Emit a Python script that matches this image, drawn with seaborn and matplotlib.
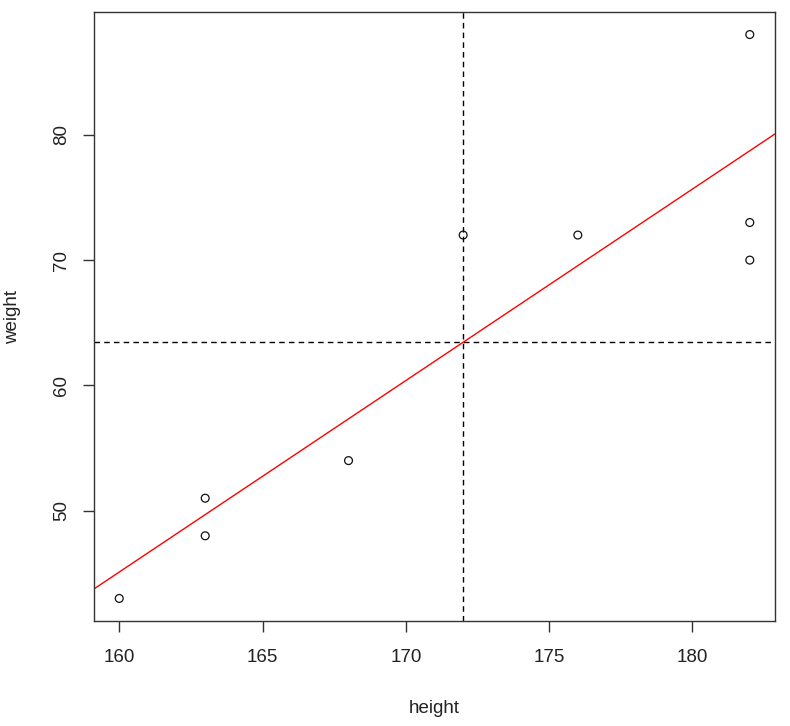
import matplotlib
matplotlib.use("Agg")
import matplotlib.pyplot as plt
import seaborn as sns
import numpy as np
import pandas as pd

height = [160, 163, 163, 168, 172, 176, 182, 182, 182]
weight = [43, 48, 51, 54, 72, 72, 70, 73, 88]

df = pd.DataFrame({"height": height, "weight": weight})

sns.set_theme(style="white")
plt.rcParams['font.family'] = ['Liberation Sans', 'DejaVu Sans']

fig = plt.figure(figsize=(7.9, 7.26), dpi=100)
ax = fig.add_axes([94/790, 1-621/726, (775-94)/790, (621-12)/726])

sns.scatterplot(data=df, x="height", y="weight", ax=ax, marker="o", s=32,
                facecolor="none", edgecolor="#111111", linewidth=0.9, zorder=3)

x = np.array(height, float); y = np.array(weight, float)
mx, my = x.mean(), y.mean()
slope = ((x-mx)*(y-my)).sum()/((x-mx)**2).sum()
icpt = my - slope*mx

xr = x.max()-x.min(); yr = y.max()-y.min()
ax.set_xlim(x.min()-0.04*xr, x.max()+0.04*xr)
ax.set_ylim(y.min()-0.04*yr, y.max()+0.04*yr)

ax.axline((0, icpt), slope=slope, color="red", linewidth=1.0, zorder=2)
ax.axvline(mx, color="black", linestyle=(0, (4, 3)), linewidth=1.0, zorder=1)
ax.axhline(my, color="black", linestyle=(0, (4, 3)), linewidth=1.0, zorder=1)

ax.set_xticks([160, 165, 170, 175, 180])
ax.set_yticks([50, 60, 70, 80])
ax.tick_params(axis="both", direction="out", length=8, width=1, colors="#333333",
               labelsize=13.5, labelcolor="#222222", bottom=True, left=True)
ax.tick_params(axis="x", pad=12)
ax.tick_params(axis="y", pad=9)
for lab in ax.get_yticklabels():
    lab.set_rotation(90)
    lab.set_va("center")
ax.set_xlabel("height", fontsize=13.5, color="#222222")
ax.set_ylabel("weight", fontsize=13.5, color="#222222")
ax.xaxis.set_label_coords(0.5, -0.143)
ax.yaxis.set_label_coords(-0.119, 0.5)
ax.xaxis.label.set_va("center")
ax.yaxis.label.set_va("center")
for sp in ax.spines.values():
    sp.set_visible(True)
    sp.set_color("#333333")
    sp.set_linewidth(1.0)
ax.grid(False)

fig.savefig("out.png", dpi=100)
